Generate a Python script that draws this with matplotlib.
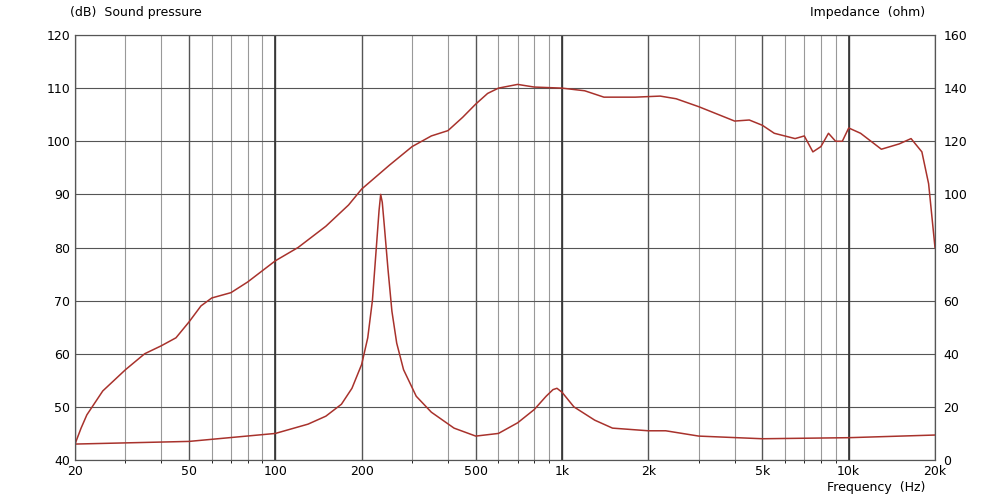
import numpy as np
import matplotlib
matplotlib.use('Agg')
import matplotlib.pyplot as plt
from matplotlib.ticker import FixedLocator, NullFormatter

# sound pressure (dB)
spl_f = [20, 21, 22, 25, 30, 35, 40, 45, 50, 55, 60, 70, 80, 100, 120, 150, 180, 200, 250, 300, 350,
         400, 450, 500, 550, 600, 700, 800, 1000, 1200, 1400, 1800, 2200, 2500, 3000, 4000, 4500,
         5000, 5500, 6500, 7000, 7500, 8000, 8500, 9000, 9500, 10000, 11000, 13000, 15000, 16500,
         18000, 19000, 20000]
spl_db = [43, 46, 48.5, 53, 57, 60, 61.5, 63, 66, 69, 70.5, 71.5, 73.5, 77.5, 80, 84, 88, 91, 95.5, 99, 101,
          102, 104.5, 107, 109, 110, 110.7, 110.2, 110, 109.5, 108.3, 108.3, 108.5, 108, 106.5, 103.8, 104,
          103, 101.5, 100.5, 101, 98, 99, 101.5, 100, 100, 102.5, 101.5, 98.5, 99.5, 100.5,
          98, 92, 80]

# impedance (ohm)
imp_f = [20, 50, 100, 130, 150, 170, 185, 200, 210, 218, 225, 230, 233, 236, 240, 247, 255, 265,
         280, 310, 350, 420, 500, 600, 700, 800, 880, 930, 960, 1000, 1100, 1300, 1500, 2000, 2300,
         3000, 5000, 10000, 20000]
imp_ohm = [6, 7, 10, 13.5, 16.5, 21, 27, 36, 46, 60, 80, 94, 100, 97, 88, 72, 56, 44,
           34, 24, 18, 12, 9, 10, 14, 19, 24, 26.5, 27, 25.5, 20, 15, 12, 11, 11,
           9, 8, 8.4, 9.4]

col = '#a8322c'
fig, ax = plt.subplots(figsize=(10, 5), dpi=100)
fig.subplots_adjust(left=0.075, right=0.935, top=0.93, bottom=0.08)
ax.set_xscale('log')
ax.set_xlim(20, 20000)
ax.set_ylim(40, 120)
ax.set_yticks(range(40, 121, 10))

ax2 = ax.twinx()
ax2.set_ylim(0, 160)
ax2.set_yticks(range(0, 161, 20))

minor = [f for d in (10, 100, 1000, 10000) for f in np.arange(2, 10) * d if 20 < f < 20000]
ax.xaxis.set_minor_locator(FixedLocator(minor))
ax.xaxis.set_minor_formatter(NullFormatter())
ax.set_xticks([20, 50, 100, 200, 500, 1000, 2000, 5000, 10000, 20000])
ax.set_xticklabels(['20', '50', '100', '200', '500', '1k', '2k', '5k', '10k', '20k'])
ax.grid(True, which='minor', axis='x', color='#999999', lw=0.8)
ax.grid(True, which='major', axis='x', color='#555555', lw=1.0)
for f in [100, 1000, 10000]:
    ax.axvline(f, color='#333333', lw=1.2)
ax.grid(True, which='major', axis='y', color='#555555', lw=0.8)
for a in (ax, ax2):
    a.tick_params(length=0, labelsize=9)
    for s in a.spines.values():
        s.set_color('#555555')
ax2.tick_params(pad=6)

ax.plot(spl_f, spl_db, color=col, lw=1.1)
ax2.plot(imp_f, imp_ohm, color=col, lw=1.1)

fig.text(0.07, 0.975, '(dB)  Sound pressure', fontsize=9, va='center')
fig.text(0.925, 0.975, 'Impedance  (ohm)', fontsize=9, ha='right', va='center')
fig.text(0.925, 0.025, 'Frequency  (Hz)', fontsize=9, ha='right', va='center')

plt.savefig('out.png')
